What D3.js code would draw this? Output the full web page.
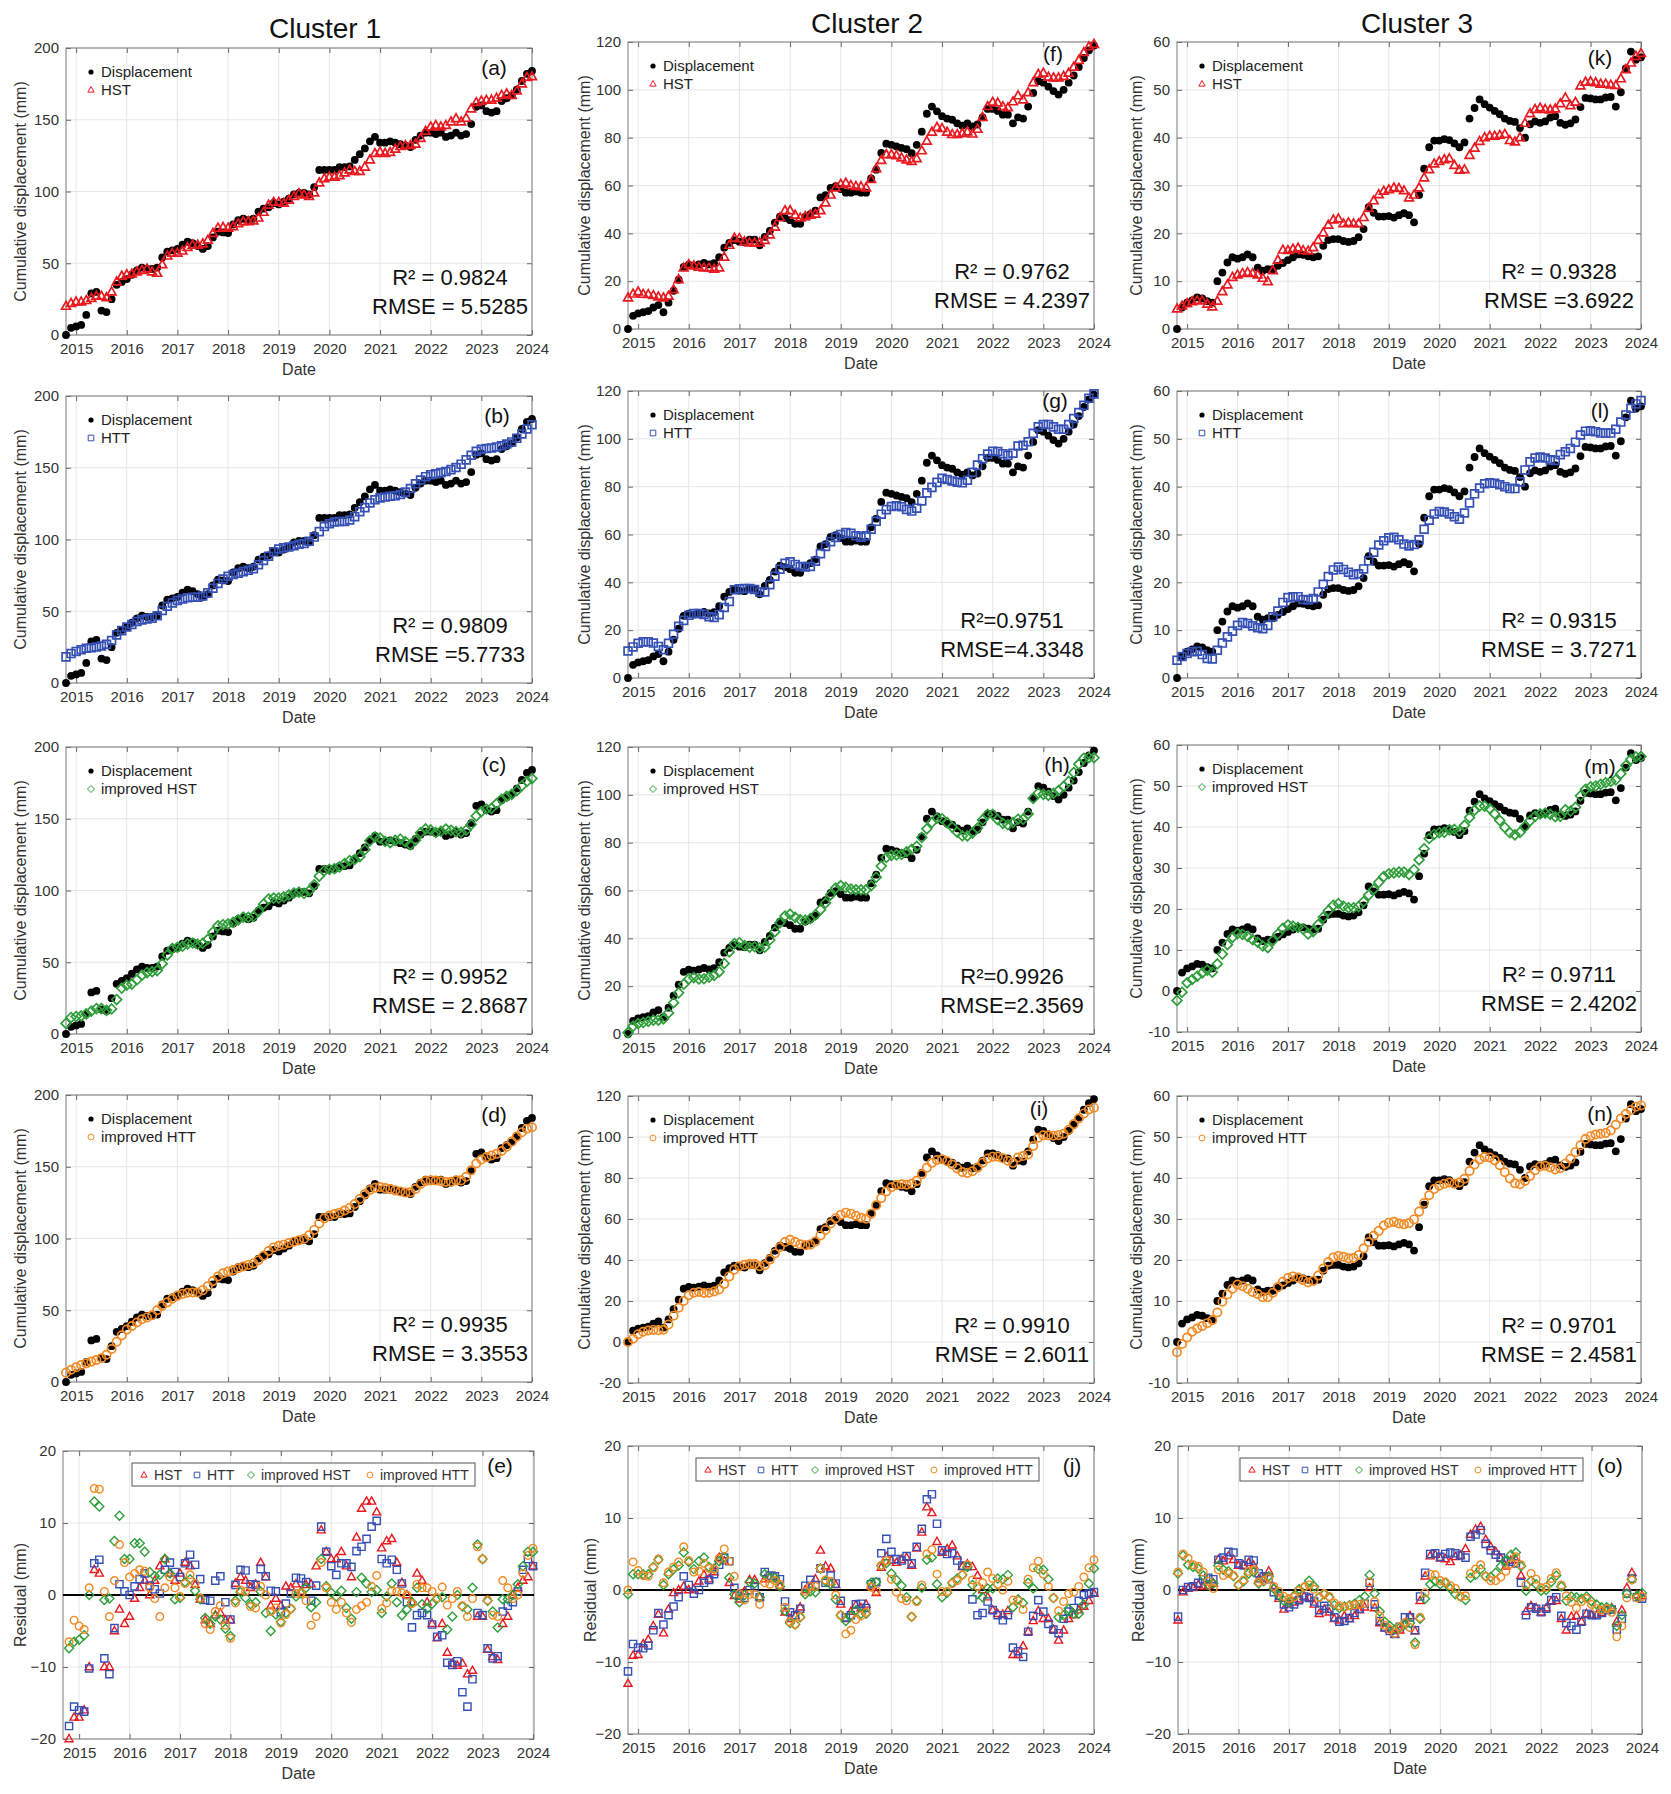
<!DOCTYPE html>
<html><head><meta charset="utf-8">
<script src="https://cdn.jsdelivr.net/npm/d3@7"></script>
<style>body{margin:0;background:#fff}svg{display:block;font-family:"Liberation Sans",Arial,sans-serif}</style>
</head><body><div id="chart"></div>
<script>
// sampling grid: every 0.1 yr from 2014.8 to 2024.0 (93 samples)
const dates=d3.range(93).map(i=>Math.round((2014.8+i*0.1)*10)/10);
const years=d3.range(2015,2025);

const disp1=[0,5,6,7,14,29,30,17,16,25, 35,37,39,42,45,47,46,46,47,54, 58,59,60,63,65,64,62,60,62,68,
 72,71.5,71,77,80,81,80,81,86,88, 89,92,91,93,95,98,99,99,98,103, 115,115,115,115,117,117,117.5,122,126,130,
 135,138,134,134,135,134,133,132,131,136, 139,141,141,140,141,138,139,141,139,140, 147,159,160,156,155,156,163,165,167,171, 177,182,184];
const hst1=[20,22,23,23,24,25.5,27,27,26,30, 37,41,42,42.5,44,45,46,44,43,49, 55,57,57,58.5,61,62.6,62.6,63.5,66,70.8,
 74.5,75,74.5,75.4,77.5,79,79,79.5,81.5,85.5, 90.5,92.5,92.5,91.8,94,96.5,98.5,97.6,96.5,99, 106,109,110,110,111,113,115,114,114,117,
 122,126.5,127.5,126.5,127.2,129.5,131.3,132,132,133, 137,142,145,146,145,146,148.5,150.8,148.5,151, 157.5,162,163,163.6,163.6,165,167,168,167,170, 175,179.5,180];
const htt1=[18.2,20.5,22,23.2,24.2,24.6,25.1,25.8,27,29.6, 33.5,36.5,39,40.8,42.8,44,44.7,45.2,46.8,50.5, 53.5,55.8,57.5,58.6,59.4,59.8,59.8,60.7,62.8,66,
 69.4,72.5,74.4,75.6,76.5,77.6,78.5,79.6,82.4,85.4, 88.4,91.5,93.4,94.2,94.8,95.6,96.7,97.2,98.8,101.7, 105.5,109,111,112.2,112.6,112.6,113.6,115.9,119.3,122.2,
 125.5,127.7,129,129.6,130.1,130.5,131.4,133,135.5,138.8, 141.5,143.8,145.1,145.8,146.6,147.4,148.7,150.2,152.5,155.5, 158.7,161.5,162.8,163.4,163.8,164.5,165.3,166.5,168,170.5, 173.5,177,180];
const ihst1=[7.4,11.5,12.2,12.6,14,16,17.7,17.7,16.5,17.5, 24,32,34,34.8,37.8,41,42.8,43.4,44.2,49, 55,59.6,60.4,61.2,62.8,63.4,62.6,63.2,66,71,
 75.4,76.2,76.7,77.8,79.6,81.4,81.3,82,85.5,90.5, 94,94.7,94.7,95.5,96.9,98.2,98.8,98,99.7,104, 110,113.8,114.7,115.2,116.4,118.8,120.8,121.6,123.6,128.4,
 134.6,137.3,136.5,134.2,133.4,135,135.8,134,132,135, 140.3,142.9,142.2,140.5,141.3,142.8,142,141,140.6,142, 146,152,155,156.8,157.3,160.5,163.6,165.6,167,169.5, 173,176,178];
const ihtt1=[6.5,8.5,10.3,11.8,13,14.2,15.3,16.5,19,23, 28,32.5,36.5,39,41.5,43.7,45,46.5,50,53, 55.5,58,60.2,61.4,62.2,62.4,62.4,64,66.8,70.3,
 73.5,75.7,77,78.1,79.3,80.5,81.6,82.8,84.8,88, 91.3,93.8,94.9,95.7,96.9,97.8,98.7,99.8,102.2,106, 110.5,114,116,117,118,119.5,121.3,124,127.5,131,
 133.8,135.3,135.9,135.1,134.4,133.5,132.7,132,132.2,134.5, 138,140,140.5,140.4,139.9,139.4,139.5,140.5,140.5,143, 147.5,152.3,155,156.7,157.8,159,161,164,167.5,171, 174,176.5,177.5];

const disp2=[0,5.5,6.5,7,7.5,9,10,7,11,16, 20.6,26,26.9,26.5,27,27.6,27,27.5,30,34, 36,37.2,36.5,36.3,37.4,37.4,35,38.5,41,44.5,
 47,46.4,45.5,44,44,47,48,49.5,55,56, 59,59.7,58.5,57,57,57.5,57,57,63,66.6, 73.6,77.5,77,76.3,75.7,75.2,73.5,77,82.5,90,
 93,91,89,88,87.5,86,85,86,84.7,85.5, 88.5,92,92,91.2,89.6,89.6,86,88.5,88,93, 98.7,103.6,103,101.3,99.5,98,100,103,106,109.5, 113.3,116.5,118.5];
const hst2=[13,14.6,15.5,14.5,14.4,14,13.4,13,13.7,16.4, 20.6,25.5,26.9,26.4,25.8,25.5,25.5,25,25.5,30, 35,38,37.8,36.5,36,36,36,37,39.3,42.6,
 46.5,49.5,49.5,47.6,46.4,47,47.6,48,49.5,52.7, 56,59,60.5,61,60,59.6,59.5,59,62.5,67, 70.5,72.9,72.9,72.5,71.5,70.7,70.1,71.2,74.5,78.5,
 82.3,84.3,83.8,82.3,81.3,81.3,81.8,82.4,81.5,83.5, 88.5,93,94.8,94.5,93,92.5,95,97.5,95.8,98.8, 103,106.5,107,105.3,105,105,105.6,107,109.5,112.3, 115.6,118,119];
const htt2=[11.3,13,14.5,15.1,15.2,14.6,13.2,11.8,14.5,18.3, 21.6,24.1,26.2,27,27,26.6,25.6,25.3,26.5,29.5, 32,36.9,37.3,37.4,37.4,37,36,36,39,42.6,
 45.5,48,48.6,47.5,46.6,46.4,46.6,48.8,52,55, 57,58.8,60,60.8,60.5,59.5,58.9,59.5,62.2,65.5, 68.5,70.4,71.7,72,71.6,70.5,69.8,71,74,77.4,
 79.7,81.8,83.5,83,82.4,81.9,81.6,82.7,86,89, 91.7,93.6,94.8,94.7,93.8,93.1,94,97,97.3,98.8, 102.3,105,106,106,105,104,104,106,108.5,111, 114,117,118.8];
const ihst2=[0.6,3.3,4.3,4.8,5.3,5.8,5.8,6.3,8.8,13.1, 17.2,20.8,23,23.6,23,23.1,23.8,24.5,26,29.5, 34.3,37.8,38.2,37,36.3,36.5,36,36.3,39.3,42.8,
 46.5,49.3,50.1,48.8,47.8,47.6,48.2,49.8,52,54.8, 58.2,61,62,61.3,60.6,60.3,60.3,60.3,62,65.5, 70.2,73.8,74.7,74.9,75.1,76.2,77.2,78.5,82.2,85.8,
 88.5,90.2,90,88.4,86.5,84.4,82.9,82.8,84,86.1, 89.5,91.8,91.8,89.6,88.1,87.5,88.4,89.8,89.8,92, 98.5,100.7,100.2,99.8,100.6,101.8,103.5,105.6,109.3,112.8, 115.3,115.6,115.5];
const ihtt2=[0,1.6,3.8,5,5.6,5.9,5.7,6,8.5,12.8, 16.7,20,22.8,24,24.4,23.9,24,24.6,25.6,28.3, 32,35.3,37,37.7,38,38,37,37.5,40.2,43.2,
 46.2,48.8,49.9,48.8,47.7,47.2,47.5,49,52,54.6, 57.8,60.4,62,63.1,62.6,61.6,60.6,60.1,62.6,66.7, 70.2,73.4,75.5,76.6,76.9,76.7,77.2,78.6,81.8,85,
 87.4,88.8,89.2,88.2,86.6,84.7,82.9,82.5,83.3,85, 87.5,89.5,90.4,90.4,89.6,88.4,87.4,90,90.7,91.5, 95.6,99.6,100.8,100.8,100.6,100.9,101.6,103.5,106.3,109, 111.5,113.4,114.3];

const disp3=[0,4.5,5.5,6,6.6,6.4,5.8,5.5,10,11.8, 13.9,15,14.7,15,15.6,15,12.8,12.2,12.5,12.5, 13.2,13.8,14.4,15,15.6,15.5,15.2,15,15.2,17.4,
 18.6,18.8,18.8,18.4,18.2,18.4,19.2,20.9,25.5,24.3, 23.5,23.5,23.6,23.3,23.8,24.2,23.8,22.3,28,33.5, 38,39.4,39.4,39.7,39.5,38.8,38,39,44,46.2,
 48,47,46.3,45.6,44.9,44,43.5,43.3,42,40, 42.8,43.4,43.1,43.4,44.2,44.5,43.1,42.7,43,43.8, 46.4,48.3,48.2,48,48,48.4,48.5,46.5,49.5,54.5, 58,56.3,56.8];
const hst3=[4.2,4.8,5.3,5.7,5.9,5.9,5.2,4.6,5.8,7.8, 9.2,10.8,11.3,11.6,11.8,11.6,11.3,10.6,9.9,12.2, 14.4,16.5,16.4,16.7,16.9,16.4,16.3,17,18.5,20.1,
 21.7,22.8,23,22,22.2,22,22,23.3,25.2,26.8, 28.1,28.8,29.1,29.5,29.4,28.9,27.4,28,29.5,31.6, 33.3,34.5,35,35.4,35.6,34.2,33.2,33.3,36.3,37.8,
 39.2,40,40.3,40.3,40.5,40.7,39.4,39.1,40,43, 45,45.9,46.2,45.9,45.8,46,47.1,48.3,46.7,47.4, 50.8,51.6,51.7,51.5,51.2,51.2,51,50.9,52.3,54.2, 55.6,57,57.6];
const htt3=[3.7,4.5,5.1,5.5,5.6,4.9,4.1,4,5.8,7.3, 8.6,9.8,11,11.6,11.4,10.9,10.5,10.3,11,12.8, 14,15.8,16.8,17,17,16.4,16.3,16.6,18,19.6,
 21.2,22.6,23.2,22.7,22.1,21.6,21.8,22.8,24.5,26.3, 27.8,28.7,29.3,29.4,28.9,28,27.6,27.9,28.9,31.1, 33,34.3,34.8,34.7,34.3,33.7,33.2,34.5,36.6,38.5,
 39.7,40.6,40.8,40.7,40.4,40,39.6,39.6,41,43.5, 45.2,46,46.2,46,45.6,45.5,46.7,47.3,48,49.3, 50.8,51.6,51.7,51.5,51.2,51.2,51.2,52,53.5,55, 56.4,57.3,58];
const ihst3=[-2.3,-0.3,2,2.8,3.6,4.4,5.1,4.6,6.6,9, 11.3,13.1,14,13.8,13.3,12.5,11.9,11,10.6,12.3, 13.9,15.3,16.1,15.8,15.5,15.1,13.9,14.5,16.2,18,
 19.6,20.9,21.3,20.7,20.3,20.3,20.6,21.8,23.4,24.8, 26.5,27.9,28.6,28.8,29,29,28.4,29.6,32,34.7, 37.2,38.2,38.6,38.7,39.3,39.4,38.9,40.4,42.3,44.1,
 45.1,45.1,44.5,43.2,41.6,39.9,38.6,38.1,38.7,40.1, 41.5,42.6,43.2,43.4,43.1,42.5,42.6,44.2,43.9,44.8, 47.6,49.2,49.8,50,50.4,50.8,51.1,51.5,53,55, 56.5,57.1,57.2];
const ihtt3=[-2.5,-0.5,1.1,2.5,3.3,3.9,4.6,5.3,7.2,9.8, 11.6,13,14,13.6,13,12.2,11.7,10.9,10.9,12, 13.4,14.7,15.6,16,15.7,15.1,14.5,14.9,16.2,17.9,
 19.5,20.6,21,20.8,20.4,20.5,21.2,22.8,24.4,25.9, 27.1,28.4,29.1,29.3,28.9,28.7,29,29.9,31.8,33.9, 35.8,37.3,38.1,38.6,38.9,38.6,38.9,39.8,41.7,43.3,
 44.5,45.1,45,44.3,43.1,41.4,39.9,38.7,38.5,39.3, 40.5,41.9,42.8,43,42.6,42.1,42.4,43.5,44.7,46.3, 48,49.5,50.2,50.6,50.8,51,51.6,53,54.5,55.6, 56.6,57.4,57.7];

const clusterNames=["Cluster 1","Cluster 2","Cluster 3"];
const modelNames=["HST","HTT","improved HST","improved HTT"];
const letters=[["(a)","(b)","(c)","(d)","(e)"],["(f)","(g)","(h)","(i)","(j)"],["(k)","(l)","(m)","(n)","(o)"]];
const stats=[
 [["R² = 0.9824","RMSE = 5.5285"],["R² = 0.9809","RMSE =5.7733"],["R² = 0.9952","RMSE = 2.8687"],["R² = 0.9935","RMSE = 3.3553"]],
 [["R² = 0.9762","RMSE = 4.2397"],["R²=0.9751","RMSE=4.3348"],["R²=0.9926","RMSE=2.3569"],["R² = 0.9910","RMSE = 2.6011"]],
 [["R² = 0.9328","RMSE =3.6922"],["R² = 0.9315","RMSE = 3.7271"],["R² = 0.9711","RMSE = 2.4202"],["R² = 0.9701","RMSE = 2.4581"]]];
const yDomains=[[[0,200],[0,200],[0,200],[0,200]],[[0,120],[0,120],[0,120],[-20,120]],[[0,60],[0,60],[-10,60],[-10,60]]];
const yStep=[50,20,10];
const residTicks=[-20,-10,0,10,20];

const clusters=[[disp1,hst1,htt1,ihst1,ihtt1],[disp2,hst2,htt2,ihst2,ihtt2],[disp3,hst3,htt3,ihst3,ihtt3]];

// layout
const W=1671,H=1794,PH=287;
const cols=[
 {x0:66,x1:532,tops:[48,396,747,1095,1451],tx:325,ty:38,rx:[63,534],rdom:[2014.68,2024.02],box:69,yl:[-40,-37],lt:[[21,-38],[21,-35],[19,-38],[21,-38],[16,-32]]},
 {x0:628,x1:1094,tops:[42,391,747,1096,1446],tx:867,ty:33,rx:[628,1094],rdom:[2014.8,2024],box:68,yl:[-38,-32],lt:[[13,-41],[11,-39],[19,-37],[14,-55],[21,-22]]},
 {x0:1177,x1:1641,tops:[42,391,745,1096,1446],tx:1417,ty:33,rx:[1178,1642],rdom:[2014.8,2024],box:62,yl:[-35,-34],lt:[[17,-41],[21,-41],[23,-41],[19,-41],[21,-31]]}];
const colors=["#e8191f","#3550b5","#2f9e3a","#f28a24"];
const FONT='"Liberation Sans",Arial,sans-serif';

const shape=[
 r=>`M0,${-r}L${r*.9},${r*.6}L${-r*.9},${r*.6}Z`,
 r=>`M${-r*.8},${-r*.8}h${r*1.6}v${r*1.6}h${-r*1.6}Z`,
 r=>`M0,${-r}L${r},0L0,${r}L${-r},0Z`,
 r=>d3.arc()({innerRadius:0,outerRadius:r*.85,startAngle:0,endAngle:2*Math.PI})];

const svg=d3.select("#chart").append("svg").attr("width",W).attr("height",H);
svg.append("rect").attr("width",W).attr("height",H).attr("fill","#fff");

function frame(x,y,yTicks,fmt,ylabel,ylOff){
  const [x0,x1]=x.range(),[yb,yt]=y.range();
  const g=svg.append("g");
  g.selectAll(null).data(years).join("line").attr("x1",d=>x(d)).attr("x2",d=>x(d)).attr("y1",yt).attr("y2",yb).attr("stroke","#e6e6e6");
  g.selectAll(null).data(yTicks).join("line").attr("x1",x0).attr("x2",x1).attr("y1",d=>y(d)).attr("y2",d=>y(d)).attr("stroke","#e6e6e6");
  const sty=s=>{s.select(".domain").remove();s.attr("font-family",FONT).attr("font-size",15);
    s.selectAll("line").attr("stroke","#666");s.selectAll("text").attr("fill","#333");};
  g.append("g").attr("transform",`translate(0,${yb})`).call(d3.axisBottom(x).tickValues(years).tickFormat(d3.format("d")).tickSize(-5).tickPadding(8)).call(sty);
  g.append("g").attr("transform",`translate(0,${yt})`).call(d3.axisTop(x).tickValues(years).tickFormat("").tickSize(-5)).call(sty);
  g.append("g").attr("transform",`translate(${x0},0)`).call(d3.axisLeft(y).tickValues(yTicks).tickFormat(fmt).tickSize(-5).tickPadding(7)).call(sty);
  g.append("g").attr("transform",`translate(${x1},0)`).call(d3.axisRight(y).tickValues(yTicks).tickFormat("").tickSize(-5)).call(sty);
  g.append("rect").attr("x",x0).attr("y",yt).attr("width",x1-x0).attr("height",yb-yt).attr("fill","none").attr("stroke","#7a7a7a");
  g.append("text").attr("x",(x0+x1)/2).attr("y",yb+40).attr("text-anchor","middle").attr("font-size",16).attr("fill","#333").text("Date");
  g.append("text").attr("transform",`translate(${x0+ylOff},${(yt+yb)/2}) rotate(-90)`).attr("text-anchor","middle").attr("font-size",16).attr("fill","#333").text(ylabel);
  return g;
}
function marks(g,x,y,vals,k,r,sw){
  g.append("g").selectAll("path").data(d3.zip(dates,vals)).join("path")
    .attr("transform",d=>`translate(${x(d[0])},${y(d[1])})`).attr("d",shape[k](r))
    .attr("fill","none").attr("stroke",colors[k]).attr("stroke-width",sw);
}
const hy=d=>d<0?"-"+(-d):String(d);

clusters.forEach((cl,c)=>{
  const L=cols[c], disp=cl[0];
  svg.append("text").attr("x",L.tx).attr("y",L.ty).attr("text-anchor","middle").attr("font-size",28).attr("fill","#111").text(clusterNames[c]);
  for(let r=0;r<4;r++){
    const top=L.tops[r], dom=yDomains[c][r];
    const x=d3.scaleLinear().domain([2014.8,2024]).range([L.x0,L.x1]);
    const y=d3.scaleLinear().domain(dom).range([top+PH,top]);
    const g=frame(x,y,d3.range(dom[0],dom[1]+1,yStep[c]),hy,"Cumulative displacement (mm)",L.yl[0]);
    g.append("g").selectAll("circle").data(d3.zip(dates,disp)).join("circle")
      .attr("cx",d=>x(d[0])).attr("cy",d=>y(d[1])).attr("r",3.9).attr("fill","#000");
    marks(g,x,y,cl[r+1],r,4.9,1.7);
    // legend
    const lx=L.x0+25, ly=top+24;
    g.append("circle").attr("cx",lx).attr("cy",ly).attr("r",2.6).attr("fill","#000");
    g.append("path").attr("transform",`translate(${lx},${ly+18})`).attr("d",shape[r](3.5)).attr("fill","none").attr("stroke",colors[r]);
    g.selectAll(null).data(["Displacement",modelNames[r]]).join("text").attr("x",lx+10).attr("y",(d,i)=>ly+5+i*18)
      .attr("font-size",15).attr("fill","#222").text(d=>d);
    g.append("text").attr("x",L.x1+L.lt[r][1]).attr("y",top+L.lt[r][0]+6).attr("text-anchor","middle").attr("font-size",21).attr("fill","#111").text(letters[c][r]);
    g.selectAll(null).data(stats[c][r]).join("text").attr("x",L.x1-82).attr("y",(d,i)=>top+PH-50+i*29)
      .attr("text-anchor","middle").attr("font-size",22).attr("fill","#111").text(d=>d);
  }
  // residuals
  const top=L.tops[4];
  const x=d3.scaleLinear().domain(L.rdom).range(L.rx);
  const y=d3.scaleLinear().domain([-20,20]).range([top+PH+1,top]);
  const g=frame(x,y,residTicks,d3.format("d"),"Residual (mm)",L.yl[1]);
  g.append("line").attr("x1",L.rx[0]).attr("x2",L.rx[1]).attr("y1",y(0)).attr("y2",y(0)).attr("stroke","#000").attr("stroke-width",2);
  for(let k=0;k<4;k++) marks(g,x,y,disp.map((v,i)=>v-cl[k+1][i]),k,4.5,1.4);
  const bx=L.rx[0]+L.box, by=top+12;
  g.append("rect").attr("x",bx).attr("y",by).attr("width",343).attr("height",23).attr("fill","#fff").attr("stroke","#555");
  const off=[12,65,119,238];
  modelNames.forEach((n,k)=>{
    g.append("path").attr("transform",`translate(${bx+off[k]},${by+12})`).attr("d",shape[k](3.5)).attr("fill","none").attr("stroke",colors[k]);
    g.append("text").attr("x",bx+off[k]+10).attr("y",by+17).attr("font-size",14).attr("fill","#333").text(n);
  });
  g.append("text").attr("x",L.x1+L.lt[4][1]).attr("y",top+L.lt[4][0]+6).attr("text-anchor","middle").attr("font-size",21).attr("fill","#111").text(letters[c][4]);
});
</script>
</body></html>
